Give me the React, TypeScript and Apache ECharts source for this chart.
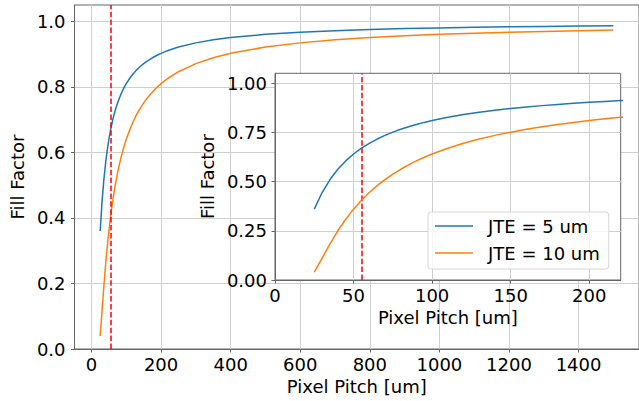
import React, { useEffect, useRef } from "react";
import * as echarts from "echarts";

// Pixel pitch [um]
const pitch = [25, 30, 35, 40, 45, 50, 55, 60, 65, 70, 75, 80, 85, 90, 95, 100, 110, 120, 130, 140, 150, 160, 170, 180, 190, 200, 210, 220, 250, 300, 350, 400, 500, 600, 700, 800, 900, 1000, 1100, 1200, 1300, 1400, 1500];
// Fill factor, JTE = 5 um
const ffJte5 = [0.36, 0.4444, 0.5102, 0.5625, 0.6049, 0.64, 0.6694, 0.6944, 0.716, 0.7347, 0.7511, 0.7656, 0.7785, 0.7901, 0.8006, 0.81, 0.8264, 0.8403, 0.8521, 0.8622, 0.8711, 0.8789, 0.8858, 0.892, 0.8975, 0.9025, 0.907, 0.9112, 0.9216, 0.9344, 0.9437, 0.9506, 0.9604, 0.9669, 0.9716, 0.9752, 0.9779, 0.9801, 0.9819, 0.9834, 0.9847, 0.9858, 0.9867];
// Fill factor, JTE = 10 um
const ffJte10 = [0.04, 0.1111, 0.1837, 0.25, 0.3086, 0.36, 0.405, 0.4444, 0.4793, 0.5102, 0.5378, 0.5625, 0.5848, 0.6049, 0.6233, 0.64, 0.6694, 0.6944, 0.716, 0.7347, 0.7511, 0.7656, 0.7785, 0.7901, 0.8006, 0.81, 0.8186, 0.8264, 0.8464, 0.8711, 0.889, 0.9025, 0.9216, 0.9344, 0.9437, 0.9506, 0.956, 0.9604, 0.964, 0.9669, 0.9694, 0.9716, 0.9735];

const seriesNames = ["JTE = 5 um", "JTE = 10 um"];
const markerPitch = 55;

const mainXTicks = [0, 200, 400, 600, 800, 1000, 1200, 1400];
const mainYTicks = [0, 0.2, 0.4, 0.6, 0.8, 1.0];
const insetXTicks = [0, 50, 100, 150, 200];
const insetYTicks = [0, 0.25, 0.5, 0.75, 1.0];

const FONT = "DejaVu Sans";
const BLUE = "#1f77b4";
const ORANGE = "#ff7f0e";
const SPINE = "#666666";
const GRIDC = "#cfcfcf";

export default function App() {
  const ref = useRef<HTMLDivElement>(null);
  useEffect(() => {
    if (!ref.current) return;
    const chart = echarts.init(ref.current, null, { renderer: "svg" });
    const d5 = pitch.map((p, i) => [p, ffJte5[i]]);
    const d10 = pitch.map((p, i) => [p, ffJte10[i]]);
    const labelStyle = { color: "#000", fontFamily: FONT, fontSize: 18 };
    const nameStyle = { color: "#000", fontFamily: FONT, fontSize: 18 };
    const markLine = {
      silent: true,
      symbol: "none",
      label: { show: false },
      lineStyle: { color: "#ff0000", type: [5.5, 2.4], width: 1.5 },
      data: [{ xAxis: markerPitch }],
    };
    const option: any = {
      animation: false,
      backgroundColor: "#ffffff",
      textStyle: { fontFamily: FONT },
      grid: [
        { left: 73, right: -11, top: 5, bottom: 52, show: true, borderColor: SPINE, borderWidth: 1, backgroundColor: "transparent", z: 0 },
        { left: 275, right: 18.3, top: 73.3, bottom: 121, show: true, borderColor: SPINE, borderWidth: 1, backgroundColor: "#ffffff", z: 3 },
      ],
      legend: {
        data: seriesNames,
        orient: "vertical",
        left: 428,
        top: 212,
        z: 10,
        icon: "rect",
        itemWidth: 38,
        itemHeight: 1.5,
        itemGap: 7,
        padding: [4, 9, 6, 7],
        backgroundColor: "rgba(255,255,255,0.8)",
        borderColor: "#d6d6d6",
        borderWidth: 1,
        borderRadius: 3,
        textStyle: { color: "#000", fontFamily: FONT, fontSize: 18, lineHeight: 20, padding: [0, 0, 0, 10] },
      },
      xAxis: [
        {
          type: "value",
          gridIndex: 0,
          min: -48.75,
          max: 1573.75,
          minInterval: 200,
          maxInterval: 200,
          name: "Pixel Pitch [um]",
          nameLocation: "middle",
          nameGap: 25,
          nameTextStyle: nameStyle,
          axisLine: { show: true, onZero: false, lineStyle: { color: SPINE, width: 1 } },
          axisTick: { show: true, customValues: mainXTicks, length: 3.5, lineStyle: { color: SPINE } },
          axisLabel: { customValues: mainXTicks, margin: 6, ...labelStyle, formatter: (v: number) => String(v) },
          splitLine: { show: true, lineStyle: { color: GRIDC, width: 1 } },
        },
        {
          type: "value",
          gridIndex: 1,
          min: 0,
          max: 220,
          interval: 50,
          z: 4,
          name: "Pixel Pitch [um]",
          nameLocation: "middle",
          nameGap: 25,
          nameTextStyle: nameStyle,
          axisLine: { show: true, onZero: false, lineStyle: { color: SPINE, width: 1 } },
          axisTick: { show: true, customValues: insetXTicks, length: 3.5, lineStyle: { color: SPINE } },
          axisLabel: { customValues: insetXTicks, margin: 6, ...labelStyle, formatter: (v: number) => String(v) },
          splitLine: { show: true, lineStyle: { color: GRIDC, width: 1 } },
        },
      ],
      yAxis: [
        {
          type: "value",
          gridIndex: 0,
          min: 0,
          max: 1.05,
          interval: 0.2,
          name: "Fill Factor",
          nameLocation: "middle",
          nameGap: 43,
          nameTextStyle: nameStyle,
          axisLine: { show: true, onZero: false, lineStyle: { color: SPINE, width: 1 } },
          axisTick: { show: true, customValues: mainYTicks, length: 3.5, lineStyle: { color: SPINE } },
          axisLabel: { customValues: mainYTicks, margin: 9, ...labelStyle, formatter: (v: number) => v.toFixed(1) },
          splitLine: { show: true, lineStyle: { color: GRIDC, width: 1 } },
        },
        {
          type: "value",
          gridIndex: 1,
          min: 0,
          max: 1.05,
          interval: 0.25,
          z: 4,
          name: "Fill Factor",
          nameLocation: "middle",
          nameGap: 53,
          nameTextStyle: nameStyle,
          axisLine: { show: true, onZero: false, lineStyle: { color: SPINE, width: 1 } },
          axisTick: { show: true, customValues: insetYTicks, length: 3.5, lineStyle: { color: SPINE } },
          axisLabel: { customValues: insetYTicks, margin: 8, ...labelStyle, formatter: (v: number) => v.toFixed(2) },
          splitLine: { show: true, lineStyle: { color: GRIDC, width: 1 } },
        },
      ],
      series: [
        { name: seriesNames[0], type: "line", xAxisIndex: 0, yAxisIndex: 0, data: d5, showSymbol: false, symbol: "none", lineStyle: { color: BLUE, width: 1.5 }, itemStyle: { color: BLUE }, z: 2, markLine },
        { name: seriesNames[1], type: "line", xAxisIndex: 0, yAxisIndex: 0, data: d10, showSymbol: false, symbol: "none", lineStyle: { color: ORANGE, width: 1.5 }, itemStyle: { color: ORANGE }, z: 2 },
        { name: seriesNames[0], type: "line", xAxisIndex: 1, yAxisIndex: 1, data: d5, showSymbol: false, symbol: "none", clip: true, lineStyle: { color: BLUE, width: 1.5 }, itemStyle: { color: BLUE }, z: 5, markLine: { ...markLine } },
        { name: seriesNames[1], type: "line", xAxisIndex: 1, yAxisIndex: 1, data: d10, showSymbol: false, symbol: "none", clip: true, lineStyle: { color: ORANGE, width: 1.5 }, itemStyle: { color: ORANGE }, z: 5 },
      ],
    };
    chart.setOption(option);
    return () => chart.dispose();
  }, []);
  return (
    <div
      ref={ref}
      style={{ position: "fixed", left: 0, top: 0, width: 639, height: 401, background: "#fff" }}
    />
  );
}
